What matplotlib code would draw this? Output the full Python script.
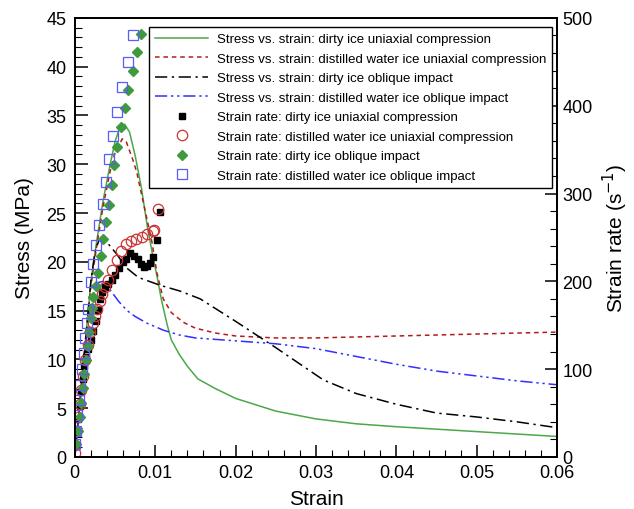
import matplotlib
matplotlib.use("Agg")
import matplotlib.pyplot as plt
from matplotlib.ticker import MultipleLocator

plt.rcParams['font.family'] = ['Liberation Sans', 'DejaVu Sans']

# stress vs strain curves
strain_dirty_uni = [0, 0.0005, 0.001, 0.0015, 0.002, 0.0027, 0.0035, 0.0044, 0.005, 0.0056, 0.0062,
                    0.0068, 0.0075, 0.0083, 0.009, 0.0097, 0.0102, 0.0108, 0.0115, 0.012, 0.013,
                    0.014, 0.0153, 0.0175, 0.02, 0.025, 0.03, 0.035, 0.04, 0.045, 0.05, 0.055, 0.06]
stress_dirty_uni = [0, 4.5, 9, 13.5, 18, 22, 26.2, 30, 32.3, 33.8, 34.1,
                    33.3, 30.9, 27.5, 23.7, 20.6, 18.6, 16, 13.5, 12, 10.5,
                    9.3, 8.0, 7.0, 6.0, 4.7, 3.9, 3.4, 3.1, 2.85, 2.6, 2.35, 2.1]

strain_dist_uni = [0, 0.0005, 0.001, 0.0015, 0.002, 0.0027, 0.0035, 0.0044, 0.005, 0.0059, 0.0064,
                   0.0072, 0.0077, 0.0087, 0.0096, 0.0102, 0.011, 0.012, 0.0135, 0.015, 0.0175,
                   0.02, 0.025, 0.03, 0.035, 0.04, 0.045, 0.05, 0.055, 0.06]
stress_dist_uni = [0, 4.3, 8.8, 13.2, 17.5, 21.5, 25.6, 29.3, 31.2, 32.6, 32.3,
                   30.5, 29.2, 25.4, 22, 18.9, 16.2, 14.8, 13.8, 13.2, 12.7,
                   12.4, 12.2, 12.2, 12.3, 12.4, 12.5, 12.6, 12.7, 12.8]

strain_dirty_obl = [0, 0.0005, 0.001, 0.0015, 0.002, 0.0025, 0.003, 0.0035, 0.0042, 0.0052, 0.0064,
                    0.0079, 0.0106, 0.0131, 0.0156, 0.02, 0.025, 0.0309, 0.035, 0.04, 0.045,
                    0.05, 0.055, 0.06]
stress_dirty_obl = [0, 4.5, 9, 13.5, 18, 21, 22.2, 22.3, 21.8, 20.8, 19.4,
                    18.4, 17.6, 17.0, 16.2, 13.9, 11.2, 7.9, 6.5, 5.4, 4.5,
                    4.1, 3.6, 3.0]

strain_dist_obl = [0, 0.0005, 0.001, 0.0015, 0.002, 0.0025, 0.003, 0.0035, 0.0045, 0.0055, 0.0065,
                   0.0075, 0.009, 0.011, 0.013, 0.015, 0.02, 0.025, 0.03, 0.035, 0.04,
                   0.045, 0.05, 0.055, 0.06]
stress_dist_obl = [0, 4.4, 8.7, 12.5, 15.5, 17.2, 17.9, 18.0, 17.0, 15.9, 15.0,
                   14.4, 13.7, 13.0, 12.5, 12.2, 11.9, 11.6, 11.1, 10.3, 9.5,
                   8.8, 8.3, 7.8, 7.4]

# strain rate vs strain (markers)
rs_dirty_uni = [0.0, 0.0002, 0.0004, 0.0006, 0.0008, 0.001, 0.0012, 0.0014, 0.0017, 0.002, 0.0023,
                0.0026, 0.0029, 0.0031, 0.0034, 0.0037, 0.0041, 0.0046, 0.005, 0.0055, 0.006,
                0.0064, 0.0069, 0.0073, 0.0078, 0.0082, 0.0086, 0.009, 0.0094, 0.0097, 0.0102, 0.0106]
rate_dirty_uni = [12, 28, 43, 58, 74, 89, 104, 114, 123, 133, 144,
                  155, 167, 180, 188, 193, 197, 202, 207, 215, 222,
                  226, 232, 229, 225, 220, 216, 217, 221, 228, 247, 279]

rs_dist_uni = [0.0, 0.0, 0.0002, 0.0004, 0.0006, 0.0008, 0.001, 0.0013, 0.0016, 0.0019, 0.0022,
               0.0025, 0.0028, 0.0031, 0.0034, 0.0037, 0.0041, 0.0046, 0.0052, 0.0058, 0.0064,
               0.007, 0.0076, 0.0083, 0.009, 0.0097, 0.0099, 0.0104]
rate_dist_uni = [5, 14, 30, 45, 60, 76, 92, 110, 127, 142, 152,
                 160, 168, 178, 186, 193, 202, 213, 224, 235, 242,
                 246, 248, 251, 254, 257, 259, 282]

rs_dirty_obl = [0.0002, 0.0004, 0.0006, 0.0008, 0.001, 0.0012, 0.0014, 0.0016, 0.0018, 0.002, 0.0021,
                0.00228, 0.00261, 0.0029, 0.0032, 0.0035, 0.0039, 0.00423, 0.00457, 0.00489, 0.00527,
                0.00573, 0.00622, 0.00664, 0.00718, 0.00776, 0.00822]
rate_dirty_obl = [15, 30, 46, 62, 78, 94, 110, 126, 142, 158, 170,
                  182, 195, 210, 229, 248, 267, 287, 310, 332, 353,
                  376, 397, 418, 440, 461, 482]

rs_dist_obl = [0.0, 0.0001, 0.0003, 0.0005, 0.0007, 0.0009, 0.0011, 0.0013, 0.0015, 0.0017, 0.002,
               0.0023, 0.0026, 0.003, 0.0035, 0.0039, 0.0043, 0.0048, 0.0053, 0.0059, 0.0066, 0.0072]
rate_dist_obl = [15, 30, 48, 65, 82, 100, 118, 135, 152, 168, 199,
                 220, 241, 264, 288, 313, 339, 366, 393, 421, 450, 480]

fig = plt.figure(figsize=(6.34, 5.10), dpi=100)
ax = fig.add_axes([0.118, 0.102, 0.761, 0.861])
ax2 = ax.twinx()

l1, = ax.plot(strain_dirty_uni, stress_dirty_uni, '-', color='#4aa84a', lw=1.1,
              label='Stress vs. strain: dirty ice uniaxial compression')
l2, = ax.plot(strain_dist_uni, stress_dist_uni, '--', color='#b01c1c', lw=1.1, dashes=(3, 2.5),
              label='Stress vs. strain: distilled water ice uniaxial compression')
l3, = ax.plot(strain_dirty_obl, stress_dirty_obl, color='black', lw=1.1, dashes=(8, 3, 1.5, 3),
              label='Stress vs. strain: dirty ice oblique impact')
l4, = ax.plot(strain_dist_obl, stress_dist_obl, color='#3030ff', lw=1.1,
              dashes=(8, 2.5, 1.5, 2.5, 1.5, 2.5),
              label='Stress vs. strain: distilled water ice oblique impact')

m1, = ax2.plot(rs_dirty_uni, rate_dirty_uni, 's', color='black', ms=5, ls='none',
               label='Strain rate: dirty ice uniaxial compression')
m2, = ax2.plot(rs_dist_uni, rate_dist_uni, 'o', mfc='none', mec='#cc3333', ms=7.5, mew=0.9,
               ls='none', label='Strain rate: distilled water ice uniaxial compression')
m3, = ax2.plot(rs_dirty_obl, rate_dirty_obl, 'D', color='#3f9a3f', ms=5.5, ls='none',
               label='Strain rate: dirty ice oblique impact')
m4, = ax2.plot(rs_dist_obl, rate_dist_obl, 's', mfc='none', mec='#5a5aff', ms=7, mew=0.9,
               ls='none', label='Strain rate: distilled water ice oblique impact')

ax.set_xlim(0, 0.06)
ax.set_ylim(0, 45)
ax2.set_ylim(0, 500)

ax.xaxis.set_major_locator(MultipleLocator(0.01))
ax.xaxis.set_minor_locator(MultipleLocator(0.002))
ax.yaxis.set_major_locator(MultipleLocator(5))
ax.yaxis.set_minor_locator(MultipleLocator(1))
ax2.yaxis.set_major_locator(MultipleLocator(100))
ax2.yaxis.set_minor_locator(MultipleLocator(20))
ax.set_xticks([0, 0.01, 0.02, 0.03, 0.04, 0.05, 0.06])
ax.set_xticklabels(['0', '0.01', '0.02', '0.03', '0.04', '0.05', '0.06'])

for a in (ax, ax2):
    a.tick_params(which='major', direction='in', length=9, width=1.1, labelsize=13)
    a.tick_params(which='minor', direction='in', length=5, width=0.8)
    for sp in a.spines.values():
        sp.set_linewidth(1.3)
ax.tick_params(top=False, right=False, which='both')
ax.tick_params(axis='x', pad=5)
ax.tick_params(axis='y', pad=6)

ax.set_xlabel('Strain', fontsize=15, labelpad=6)
ax.set_ylabel('Stress (MPa)', fontsize=15, labelpad=9)
ax2.set_ylabel('Strain rate (s$^{-1}$)', fontsize=15, labelpad=6)

leg = ax2.legend(handles=[l1, l2, l3, l4, m1, m2, m3, m4], loc='upper right',
                 bbox_to_anchor=(0.99, 0.979), fontsize=9.5, frameon=True, fancybox=False,
                 edgecolor='black', framealpha=1, handlelength=4.0, handletextpad=0.7,
                 labelspacing=0.55, borderpad=0.45, borderaxespad=0)
leg.get_frame().set_linewidth(1.0)

fig.savefig('out.png', dpi=100)
